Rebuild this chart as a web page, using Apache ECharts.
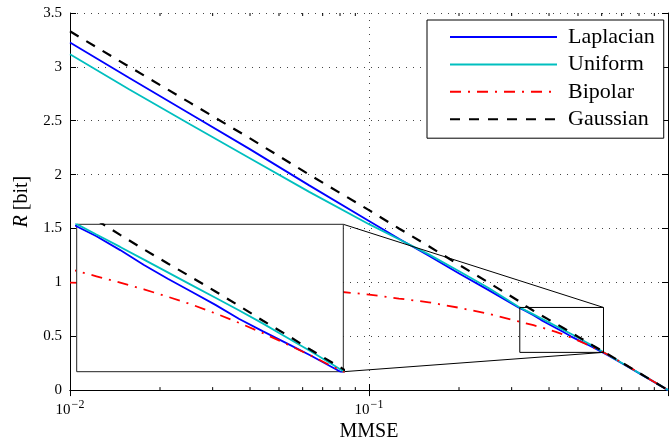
<!DOCTYPE html>
<html>
<head>
<meta charset="utf-8">
<script src="https://cdn.jsdelivr.net/npm/echarts@6/dist/echarts.min.js"></script>
<style>
  html, body { margin: 0; padding: 0; background: #fff; }
  #chart { width: 671px; height: 447px; }
</style>
</head>
<body>
<div id="chart"></div>
<script>
// MMSE (x, log scale) and rate in bits for each source
const mmse = [0.01, 0.0158, 0.0251, 0.0398, 0.0631, 0.1, 0.1259, 0.1585, 0.1995, 0.2512,
  0.3162, 0.335, 0.3548, 0.3758, 0.3981, 0.4217, 0.4467, 0.4732, 0.5012, 0.5309,
  0.5623, 0.5957, 0.631, 0.7079, 0.7943, 0.8913, 1];
const laplacian = [3.227, 2.897, 2.568, 2.239, 1.90, 1.57, 1.405, 1.247, 1.085, 0.928,
  0.767, 0.733, 0.694, 0.652, 0.613, 0.576, 0.539, 0.499, 0.464, 0.430,
  0.396, 0.359, 0.322, 0.243, 0.162, 0.081, 0];
const uniform = [3.117, 2.79, 2.47, 2.155, 1.84, 1.54, 1.40, 1.26, 1.105, 0.948,
  0.774, 0.738, 0.703, 0.667, 0.631, 0.595, 0.559, 0.523, 0.486, 0.447,
  0.408, 0.367, 0.325, 0.245, 0.163, 0.082, 0];
const bipolar = [0.997, 0.99, 0.98, 0.965, 0.94, 0.887, 0.85, 0.815, 0.765, 0.708,
  0.638, 0.62, 0.602, 0.583, 0.562, 0.54, 0.515, 0.488, 0.459, 0.428,
  0.396, 0.362, 0.328, 0.248, 0.165, 0.082, 0];
const gaussian = [3.33, 3.00, 2.67, 2.34, 2.00, 1.67, 1.50, 1.335, 1.165, 0.998,
  0.828, 0.779, 0.737, 0.696, 0.656, 0.617, 0.577, 0.536, 0.494, 0.454,
  0.412, 0.372, 0.332, 0.249, 0.166, 0.083, 0];

// minor tick positions of the log axis
const minorTicks = [0.02, 0.03, 0.04, 0.05, 0.06, 0.07, 0.08, 0.09,
  0.2, 0.3, 0.4, 0.5, 0.6, 0.7, 0.8, 0.9];

// region shown magnified in the inset
const zoomX = [0.3194, 0.6085];
const zoomY = [0.35, 0.767];

const FONT = 'Liberation Serif';
const pair = ys => mmse.map((x, i) => [x, ys[i]]);

const supLabel = v => {
  const e = Math.round(Math.log10(v));
  if (e === 0) return '';
  return '{b|10}{s|' + (e < 0 ? '\u2212' + (-e) : e) + '}';
};

const dotted = { color: '#444', width: 1, type: [1, 6] };

function curves(axisIdx, zl, withName){
  const defs = [
    [withName ? 'Laplacian' : '_l', laplacian, { color: '#0000ff', width: 1.8 }],
    [withName ? 'Uniform' : '_u', uniform, { color: '#00bfbf', width: 1.8 }],
    [withName ? 'Bipolar' : '_b', bipolar, { color: '#ff0000', width: 1.8, type: [11, 7, 2, 7] }],
    [withName ? 'Gaussian' : '_g', gaussian, { color: '#000000', width: 2.2, type: [10, 9] }]
  ];
  return defs.map(([name, ys, ls]) => ({
    type: 'line', name: name,
    xAxisIndex: axisIdx, yAxisIndex: axisIdx,
    data: pair(ys),
    showSymbol: false, symbol: 'none',
    lineStyle: ls, itemStyle: { color: ls.color },
    clip: true, silent: true, animation: false,
    zlevel: zl, z: 3
  }));
}

const chart = echarts.init(document.getElementById('chart'));

const option = {
  animation: false,
  backgroundColor: '#fff',
  textStyle: { fontFamily: FONT },
  grid: [
    { left: 70, top: 13, right: 1, bottom: 55 },
    { left: 76.7, top: 224.3, width: 266.6, height: 147.4, show: true,
      backgroundColor: '#fff', borderColor: '#222', borderWidth: 1, zlevel: 1 }
  ],
  xAxis: [
    { type: 'log', logBase: 10, min: 0.01, max: 1, gridIndex: 0,
      name: 'MMSE', nameLocation: 'middle', nameGap: 28,
      nameTextStyle: { fontFamily: FONT, fontSize: 20, color: '#000' },
      axisLine: { lineStyle: { color: '#000', width: 1 } },
      axisTick: { inside: true, length: 6, lineStyle: { color: '#000' } },
      axisLabel: { margin: 9, formatter: supLabel, color: '#000',
        rich: {
          b: { fontFamily: FONT, fontSize: 15, color: '#000', verticalAlign: 'bottom', lineHeight: 18 },
          s: { fontFamily: FONT, fontSize: 12, color: '#000', verticalAlign: 'top', lineHeight: 18, padding: [0, 0, 6, 1] }
        } },
      splitLine: { show: true, lineStyle: dotted } },
    { type: 'log', logBase: 10, min: 0.01, max: 1, gridIndex: 0, position: 'top',
      axisLine: { lineStyle: { color: '#000', width: 1 } },
      axisTick: { inside: true, length: 6, lineStyle: { color: '#000' } },
      axisLabel: { show: false }, splitLine: { show: false } },
    { type: 'log', logBase: 10, min: zoomX[0], max: zoomX[1], gridIndex: 1, show: false }
  ],
  yAxis: [
    { type: 'value', min: 0, max: 3.5, interval: 0.5, gridIndex: 0,
      name: '{i|R} [bit]', nameLocation: 'middle', nameGap: 38,
      nameTextStyle: { fontFamily: FONT, fontSize: 20, color: '#000',
        rich: { i: { fontFamily: FONT, fontSize: 20, fontStyle: 'italic', color: '#000' } } },
      axisLine: { show: true, lineStyle: { color: '#000', width: 1 } },
      axisTick: { show: true, inside: true, length: 6, lineStyle: { color: '#000' } },
      axisLabel: { margin: 8, fontFamily: FONT, fontSize: 15, color: '#000' },
      splitLine: { show: true, lineStyle: dotted } },
    { type: 'value', min: 0, max: 3.5, interval: 0.5, gridIndex: 0, position: 'right',
      axisLine: { show: true, lineStyle: { color: '#000', width: 1 } },
      axisTick: { show: true, inside: true, length: 6, lineStyle: { color: '#000' } },
      axisLabel: { show: false }, splitLine: { show: false } },
    { type: 'value', min: zoomY[0], max: zoomY[1], gridIndex: 1, show: false }
  ],
  legend: {
    data: ['Laplacian', 'Uniform', 'Bipolar', 'Gaussian'],
    orient: 'vertical', left: 427, top: 20,
    padding: [6, 9, 8, 22],
    itemWidth: 107, itemHeight: 14, itemGap: 5.4,
    itemStyle: { opacity: 0 },
    borderColor: '#000', borderWidth: 1, backgroundColor: '#fff',
    textStyle: { fontFamily: FONT, fontSize: 22, color: '#000', padding: [0, 0, 0, 6] }
  },
  series: [
    ...curves(0, 0, true),
    {
      type: 'line', name: '_box', xAxisIndex: 0, yAxisIndex: 0,
      data: [[zoomX[0], zoomY[0]], [zoomX[0], zoomY[1]], [zoomX[1], zoomY[1]],
             [zoomX[1], zoomY[0]], [zoomX[0], zoomY[0]]],
      showSymbol: false, symbol: 'none', silent: true,
      lineStyle: { color: '#000', width: 1 }, z: 4
    },
    {
      type: 'custom', name: '_minor', xAxisIndex: 0, yAxisIndex: 0, silent: true, clip: false,
      data: minorTicks.map(v => [v, 0]),
      renderItem: (params, api) => {
        const b = api.coord([api.value(0), 0]);
        const t = api.coord([api.value(0), 3.5]);
        return { type: 'group', children: [
          { type: 'line', shape: { x1: b[0], y1: b[1], x2: b[0], y2: b[1] - 3 }, style: { stroke: '#000', lineWidth: 1 } },
          { type: 'line', shape: { x1: t[0], y1: t[1], x2: t[0], y2: t[1] + 3 }, style: { stroke: '#000', lineWidth: 1 } }
        ] };
      }
    },
    ...curves(2, 1, false)
  ]
};

chart.setOption(option);

// lines joining the zoom box to the inset
const boxTop = chart.convertToPixel({ gridIndex: 0 }, [zoomX[1], zoomY[1]]);
const boxBot = chart.convertToPixel({ gridIndex: 0 }, [zoomX[1], zoomY[0]]);
const insTop = chart.convertToPixel({ gridIndex: 1 }, [zoomX[1], zoomY[1]]);
const insBot = chart.convertToPixel({ gridIndex: 1 }, [zoomX[1], zoomY[0]]);
chart.setOption({
  graphic: [
    { type: 'line', shape: { x1: insTop[0], y1: insTop[1], x2: boxTop[0], y2: boxTop[1] },
      style: { stroke: '#000', lineWidth: 1 }, z: 5, silent: true },
    { type: 'line', shape: { x1: insBot[0], y1: insBot[1], x2: boxBot[0], y2: boxBot[1] },
      style: { stroke: '#000', lineWidth: 1 }, z: 5, silent: true }
  ]
});
</script>
</body>
</html>
